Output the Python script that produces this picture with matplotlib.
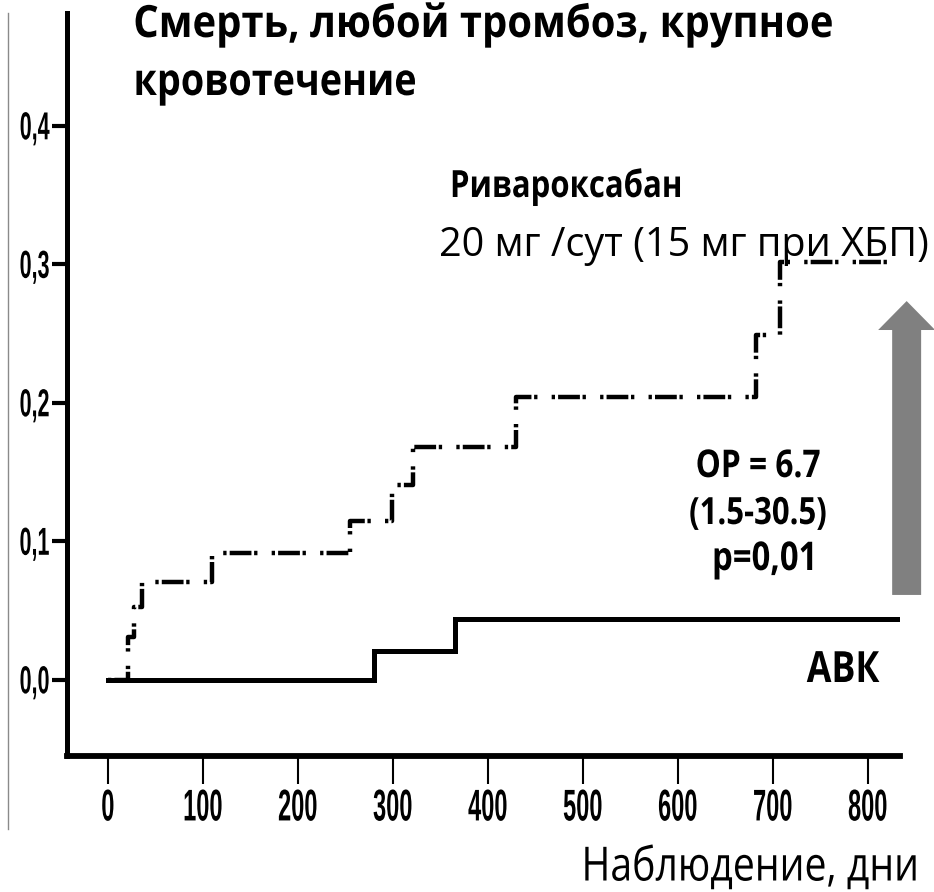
import matplotlib
matplotlib.use("Agg")
import matplotlib.pyplot as plt
from matplotlib.patheffects import AbstractPathEffect
from matplotlib.transforms import Affine2D
from matplotlib.lines import Line2D
from matplotlib.patches import FancyArrow

# Кумулятивная частота событий (дни наблюдения, доля)
riva_days = [0, 21, 28, 36, 110, 255, 299, 321, 430, 682, 708, 834]
riva_risk = [0.0, 0.031, 0.053, 0.071, 0.092, 0.115, 0.141, 0.168, 0.204, 0.249, 0.302, 0.302]
avk_days = [0, 280, 365, 834]
avk_risk = [0.0, 0.021, 0.044, 0.044]

x_ticks = [0, 100, 200, 300, 400, 500, 600, 700, 800]
y_ticks = [0.0, 0.1, 0.2, 0.3, 0.4]
y_tick_labels = ["0,0", "0,1", "0,2", "0,3", "0,4"]

W, H = 934, 892


def fx(px):
    return px / W


def fy(py):
    return 1 - py / H


class Squeeze(AbstractPathEffect):
    """Масштабирует контуры глифов относительно точки их рамки (узкий шрифт)."""

    def __init__(self, sx, sy=1.0, anchor=(0.5, 0.5)):
        super().__init__()
        self.sx, self.sy, self.anchor = sx, sy, anchor

    def draw_path(self, renderer, gc, tpath, affine, rgbFace=None):
        box = tpath.get_extents(affine)
        ox = box.x0 + self.anchor[0] * box.width
        oy = box.y0 + self.anchor[1] * box.height
        squeeze = Affine2D().translate(-ox, -oy).scale(self.sx, self.sy).translate(ox, oy)
        renderer.draw_path(gc, tpath, affine + squeeze, rgbFace)


fig = plt.figure(figsize=(W / 100, H / 100), dpi=100)
ax = fig.add_axes([fx(67), fy(756), fx(900) - fx(67), fy(13) - fy(756)])

ax.step(riva_days, riva_risk, where="post", color="black", lw=3.2,
        linestyle=(0, (0.75, 0.7, 4.9, 0.6, 0.75, 3.2)), zorder=2)
ax.step(avk_days, avk_risk, where="post", color="black", lw=3.6,
        solid_joinstyle="miter", zorder=3)

ax.set_xlim(-43, 834)
ax.set_ylim(-0.0549, 0.4816)

for side in ("top", "right"):
    ax.spines[side].set_visible(False)
ax.spines["left"].set_linewidth(3.6)
ax.spines["bottom"].set_linewidth(4.2)
for side in ("left", "bottom"):
    ax.spines[side].set_capstyle("projecting")

ax.set_xticks(x_ticks)
ax.set_yticks(y_ticks)
ax.set_yticklabels(y_tick_labels)
ax.tick_params(axis="y", direction="out", length=11, width=3, pad=1.5)
ax.tick_params(axis="x", direction="out", length=20, width=1.5, pad=3)

# узкие высокие цифры на осях
for t in ax.get_yticklabels():
    t.set_fontfamily("Liberation Sans")
    t.set_fontweight("bold")
    t.set_fontsize(18)
    t.set_path_effects([Squeeze(0.86, 1.56, (1.0, 0.5))])
for t in ax.get_xticklabels():
    t.set_fontfamily("Liberation Sans")
    t.set_fontweight("bold")
    t.set_fontsize(17)
    t.set_path_effects([Squeeze(1.0, 1.88, (0.5, 1.0))])

# стрелка превышения риска
ax.add_patch(FancyArrow(841, 0.0614, 0, 0.2122, width=30.5, head_width=60,
                        head_length=0.0209, length_includes_head=True,
                        color="#808080", lw=0, clip_on=False, zorder=4))

# тонкая рамка слева
fig.add_artist(Line2D([fx(8), fx(8)], [fy(13), fy(829)], color="#8a8a8a", lw=1))

sq_mid = [Squeeze(0.83, 1.0, (0.5, 0.0))]
font = "Open Sans"

fig.text(fx(133), fy(37), "Смерть, любой тромбоз, крупное", fontsize=32,
         fontweight="bold", family=font, ha="left", va="baseline",
         path_effects=[Squeeze(0.9, 1.0, (0.0, 0.0))])
fig.text(fx(133), fy(95), "кровотечение", fontsize=32, fontweight="bold",
         family=font, ha="left", va="baseline",
         path_effects=[Squeeze(0.85, 1.0, (0.0, 0.0))])
fig.text(fx(566), fy(197), "Ривароксабан", fontsize=27, fontweight="bold",
         family=font, ha="center", va="baseline", path_effects=sq_mid)
fig.text(fx(684), fy(256), "20 мг /сут (15 мг при ХБП)", fontsize=28.5,
         family=font, ha="center", va="baseline")
fig.text(fx(758), fy(477), "ОР = 6.7", fontsize=27.5, fontweight="bold",
         family=font, ha="center", va="baseline", path_effects=sq_mid)
fig.text(fx(758), fy(524), "(1.5-30.5)", fontsize=27, fontweight="bold",
         family=font, ha="center", va="baseline", path_effects=sq_mid)
fig.text(fx(765), fy(570), "p=0,01", fontsize=28.5, fontweight="bold",
         family=font, ha="center", va="baseline", path_effects=sq_mid)
fig.text(fx(843), fy(682), "АВК", fontsize=31, fontweight="bold",
         family=font, ha="center", va="baseline", path_effects=sq_mid)
fig.text(fx(750), fy(882), "Наблюдение, дни", fontsize=28.2, family=font,
         ha="center", va="baseline",
         path_effects=[Squeeze(1.0, 1.205, (0.5, 0.0))])

fig.savefig("out.png", dpi=100)
